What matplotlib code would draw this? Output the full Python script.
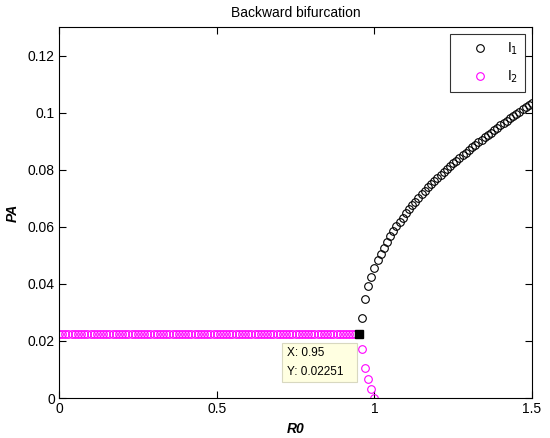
import numpy as np
import matplotlib
matplotlib.use("Agg")
import matplotlib.pyplot as plt

plt.rcParams['font.family'] = ['Liberation Sans', 'DejaVu Sans']

# ---- data ----
r0_i2 = [0.00, 0.01, 0.02, 0.03, 0.04, 0.05, 0.06, 0.07, 0.08, 0.09,
         0.10, 0.11, 0.12, 0.13, 0.14, 0.15, 0.16, 0.17, 0.18, 0.19,
         0.20, 0.21, 0.22, 0.23, 0.24, 0.25, 0.26, 0.27, 0.28, 0.29,
         0.30, 0.31, 0.32, 0.33, 0.34, 0.35, 0.36, 0.37, 0.38, 0.39,
         0.40, 0.41, 0.42, 0.43, 0.44, 0.45, 0.46, 0.47, 0.48, 0.49,
         0.50, 0.51, 0.52, 0.53, 0.54, 0.55, 0.56, 0.57, 0.58, 0.59,
         0.60, 0.61, 0.62, 0.63, 0.64, 0.65, 0.66, 0.67, 0.68, 0.69,
         0.70, 0.71, 0.72, 0.73, 0.74, 0.75, 0.76, 0.77, 0.78, 0.79,
         0.80, 0.81, 0.82, 0.83, 0.84, 0.85, 0.86, 0.87, 0.88, 0.89,
         0.90, 0.91, 0.92, 0.93, 0.94, 0.95,
         0.96, 0.97, 0.98, 0.99, 1.00]
pa_i2 = [0.0225] * 96 + [0.0171, 0.0104, 0.0066, 0.0031, 0.0000]

r0_i1 = [0.96, 0.97, 0.98, 0.99, 1.00, 1.01, 1.02, 1.03, 1.04, 1.05,
         1.06, 1.07, 1.08, 1.09, 1.10, 1.11, 1.12, 1.13, 1.14, 1.15,
         1.16, 1.17, 1.18, 1.19, 1.20, 1.21, 1.22, 1.23, 1.24, 1.25,
         1.26, 1.27, 1.28, 1.29, 1.30, 1.31, 1.32, 1.33, 1.34, 1.35,
         1.36, 1.37, 1.38, 1.39, 1.40, 1.41, 1.42, 1.43, 1.44, 1.45,
         1.46, 1.47, 1.48, 1.49, 1.50]
pa_i1 = [0.0279, 0.0348, 0.0391, 0.0425, 0.0455, 0.0482, 0.0505, 0.0527, 0.0547, 0.0566,
         0.0584, 0.0601, 0.0617, 0.0632, 0.0647, 0.0661, 0.0675, 0.0688, 0.0701, 0.0714,
         0.0726, 0.0738, 0.0749, 0.0760, 0.0771, 0.0782, 0.0792, 0.0802, 0.0812, 0.0822,
         0.0832, 0.0841, 0.0850, 0.0860, 0.0869, 0.0878, 0.0887, 0.0896, 0.0904, 0.0913,
         0.0922, 0.0930, 0.0939, 0.0947, 0.0955, 0.0964, 0.0972, 0.0980, 0.0988, 0.0995,
         0.1003, 0.1011, 0.1018, 0.1026, 0.1033]

tip_x = 0.95
tip_y = 0.02251

xticks = [0, 0.5, 1, 1.5]
xticklabels = ["0", "0.5", "1", "1.5"]
yticks = [0, 0.02, 0.04, 0.06, 0.08, 0.10, 0.12]
yticklabels = ["0", "0.02", "0.04", "0.06", "0.08", "0.1", "0.12"]

# ---- figure ----
fig = plt.figure(figsize=(5.5, 4.38), dpi=100)
ax = fig.add_axes([0.1073, 0.0913, 0.86, 0.8471])

ax.plot(r0_i1, pa_i1, linestyle='none', marker='o', ms=5.5, mfc='none',
        mec='black', mew=0.8, label='I$_1$')
ax.plot(r0_i2, pa_i2, linestyle='none', marker='o', ms=5.5, mfc='none',
        mec='#ff00ff', mew=0.8, label='I$_2$')

# data tip
ax.plot([tip_x], [tip_y], linestyle='none', marker='s', ms=6,
        mfc='black', mec='black', zorder=5)
ax.annotate(f"X: {tip_x:g}\nY: {tip_y:g}   ", xy=(tip_x, tip_y),
            xytext=(-72, -13), textcoords='offset pixels', ha='left', va='top',
            fontsize=8.5, linespacing=1.8,
            bbox=dict(boxstyle='square,pad=0.35', fc='#ffffe1', ec='#d8d8c0', lw=0.8),
            zorder=6)

ax.set_xlim(0, 1.5)
ax.set_ylim(0, 0.13)
ax.set_xticks(xticks)
ax.set_xticklabels(xticklabels)
ax.set_yticks(yticks)
ax.set_yticklabels(yticklabels)
ax.tick_params(direction='in', length=5, width=0.8, top=True, right=True,
               labelsize=10, pad=3, colors='black')
for s in ax.spines.values():
    s.set_linewidth(0.8)

ax.set_xlabel('R0', fontsize=10, fontweight='bold', fontstyle='italic', labelpad=4)
ax.set_ylabel('PA', fontsize=10, fontweight='bold', fontstyle='italic', labelpad=6)
ax.set_title('Backward bifurcation', fontsize=10, pad=7)

leg = ax.legend(loc='upper right', fontsize=10, frameon=True, fancybox=False,
                edgecolor='black', borderpad=0.5, labelspacing=0.85,
                handlelength=3.3, handletextpad=0.3, borderaxespad=0.5,
                markerscale=1.0)
leg.get_frame().set_linewidth(0.8)

fig.savefig('out.png', dpi=100)
